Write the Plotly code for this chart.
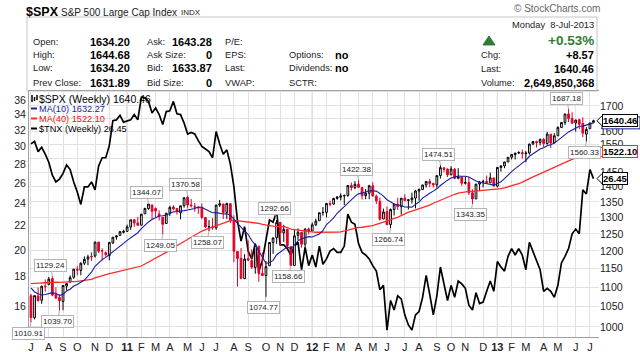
import math
import pandas as pd
import plotly.graph_objects as go

# ---------------- data (weekly, first bar = week ending 2010-07-02) ----------------
first_week = "2010-07-02"

spx_open = [
    1077.5, 1022.1, 1077.2, 1066.0, 1102.9, 1107.5, 1122.8, 1081.0, 1073.3, 1062.9, 1102.6, 1113.4, 1126.6, 1148.6,
    1144.9, 1165.3, 1176.8, 1184.7, 1185.7, 1225.6, 1200.4, 1194.8, 1186.6, 1223.2, 1240.9, 1245.8, 1254.7,
    1257.6, 1270.8, 1293.2, 1283.3, 1276.5, 1311.9, 1328.7, 1340.4, 1328.6, 1311.1, 1301.2, 1281.7, 1315.4, 1333.5,
    1329.0, 1315.3, 1337.9, 1365.2, 1340.2, 1334.1, 1333.1, 1331.1, 1300.3, 1271.3, 1272.2, 1268.4, 1339.6, 1343.3,
    1315.9, 1344.3, 1292.6, 1198.5, 1179.2, 1123.2, 1177.9, 1172.4, 1153.5, 1214.0, 1136.9, 1131.2, 1158.2, 1224.5,
    1238.7, 1284.9, 1253.2, 1263.9, 1212.5, 1158.7, 1246.0, 1255.1, 1219.7, 1265.0,
    1258.9, 1277.8, 1290.2, 1315.3, 1316.2, 1344.3, 1343.1, 1361.2, 1365.2, 1369.6, 1370.8, 1404.2, 1397.1, 1408.5,
    1397.4, 1370.3, 1378.5, 1403.4, 1368.8, 1351.9, 1295.7, 1318.9, 1278.3, 1325.7, 1342.4, 1334.9, 1362.3, 1354.7,
    1356.5, 1362.3, 1385.9, 1391.0, 1405.9, 1418.1, 1411.1, 1406.5, 1438.4, 1465.4, 1460.3, 1440.9, 1460.3, 1428.8,
    1433.2, 1411.9, 1414.0, 1379.9, 1359.9, 1409.2, 1416.3, 1418.1, 1413.5, 1430.2,
    1402.4, 1466.5, 1472.1, 1486.0, 1502.9, 1512.1, 1517.9, 1519.8, 1515.6, 1518.2, 1551.2, 1560.7, 1556.9, 1569.2,
    1553.3, 1588.6, 1555.3, 1582.3, 1614.4, 1633.7, 1667.5, 1649.6, 1631.7, 1644.7, 1629.9, 1588.8, 1609.8, 1634.2,
]
spx_high = [
    1082.6, 1078.0, 1099.1, 1103.7, 1120.9, 1127.3, 1129.24, 1100.1, 1081.6, 1105.1, 1110.9, 1131.5, 1148.9, 1157.2,
    1167.7, 1184.4, 1189.4, 1196.1, 1227.1, 1227.1, 1207.4, 1198.7, 1225.6, 1240.4, 1246.7, 1259.4, 1262.6,
    1278.2, 1293.3, 1296.1, 1302.7, 1311.0, 1330.8, 1344.07, 1340.4, 1332.3, 1322.6, 1301.2, 1314.8, 1337.9, 1339.5,
    1329.0, 1337.5, 1364.6, 1370.58, 1359.4, 1346.8, 1334.6, 1345.2, 1300.3, 1292.5, 1298.6, 1341.0, 1356.5, 1343.3,
    1347.0, 1344.3, 1307.4, 1199.4, 1208.5, 1190.7, 1230.7, 1204.4, 1220.4, 1214.0, 1195.9, 1171.4, 1224.6, 1239.0,
    1292.66, 1284.9, 1277.6, 1266.0, 1212.5, 1264.3, 1267.1, 1255.1, 1265.4, 1269.4,
    1284.6, 1296.8, 1315.5, 1333.5, 1345.3, 1354.3, 1363.4, 1368.9, 1378.0, 1374.2, 1405.9, 1414.0, 1419.2, 1422.38,
    1397.4, 1392.8, 1406.6, 1415.3, 1373.9, 1364.2, 1328.5, 1334.9, 1329.0, 1343.3, 1363.5, 1362.2, 1374.8, 1359.6,
    1380.4, 1389.2, 1394.2, 1407.1, 1418.7, 1426.7, 1413.5, 1438.0, 1474.51, 1465.6, 1463.2, 1470.9, 1464.0, 1464.0,
    1433.8, 1434.3, 1433.4, 1391.4, 1409.2, 1420.0, 1424.0, 1438.6, 1448.0, 1430.2,
    1467.9, 1472.3, 1486.0, 1503.3, 1514.4, 1518.3, 1524.7, 1530.9, 1525.8, 1552.5, 1563.3, 1563.6, 1570.3, 1573.7,
    1597.4, 1588.6, 1592.6, 1618.5, 1635.0, 1667.5, 1687.18, 1674.2, 1644.0, 1648.7, 1654.2, 1615.9, 1632.1, 1644.68,
]
spx_low = [
    1010.91, 1018.4, 1062.9, 1056.9, 1088.0, 1105.1, 1076.6, 1069.0, 1039.70, 1040.9, 1091.2, 1113.4, 1122.2, 1131.9,
    1131.9, 1160.0, 1159.7, 1171.7, 1181.3, 1194.1, 1173.0, 1183.5, 1173.6, 1220.7, 1232.8, 1245.8, 1251.5,
    1257.6, 1262.2, 1271.3, 1275.1, 1276.5, 1311.7, 1324.6, 1294.3, 1299.0, 1291.2, 1249.05, 1281.7, 1305.3, 1322.9,
    1309.0, 1294.7, 1331.6, 1329.2, 1332.0, 1318.5, 1311.8, 1296.1, 1268.6, 1258.07, 1262.7, 1262.7, 1333.9, 1295.9,
    1295.9, 1282.9, 1168.1, 1101.5, 1121.1, 1121.1, 1171.0, 1149.4, 1136.2, 1114.2, 1131.1, 1074.77, 1158.2, 1191.5,
    1220.6, 1215.4, 1226.6, 1208.0, 1158.66, 1158.7, 1231.5, 1209.5, 1202.4, 1248.6,
    1258.9, 1274.4, 1290.2, 1306.1, 1300.8, 1335.9, 1341.0, 1357.3, 1354.9, 1340.0, 1366.7, 1386.9, 1391.6, 1397.8,
    1357.4, 1358.8, 1358.8, 1367.9, 1343.1, 1291.0, 1295.7, 1277.4, 1266.74, 1306.6, 1324.4, 1309.3, 1351.4, 1325.4,
    1344.8, 1329.2, 1354.7, 1390.6, 1397.3, 1398.0, 1397.0, 1396.6, 1428.0, 1449.6, 1433.0, 1439.0, 1425.5, 1425.5,
    1403.3, 1407.6, 1373.0, 1343.35, 1359.9, 1385.4, 1398.2, 1411.9, 1413.5, 1401.4,
    1398.1, 1451.6, 1463.8, 1485.2, 1495.0, 1495.0, 1515.6, 1497.3, 1485.0, 1512.3, 1547.4, 1538.6, 1546.2, 1539.5,
    1548.6, 1536.0, 1555.3, 1581.3, 1614.4, 1623.7, 1635.5, 1630.6, 1598.2, 1608.1, 1577.7, 1560.33, 1608.5, 1634.2,
]
spx_close = [
    1022.58, 1077.96, 1064.88, 1102.66, 1101.60, 1121.64, 1079.25, 1071.69, 1064.59, 1104.51, 1109.55, 1125.59,
    1148.67, 1146.24, 1165.15, 1176.19, 1183.08, 1183.26, 1225.85, 1199.21, 1199.73, 1189.40, 1224.71, 1240.40,
    1243.91, 1256.77, 1257.64,
    1271.50, 1293.24, 1283.35, 1276.34, 1310.87, 1329.15, 1343.01, 1319.88, 1321.15, 1304.28, 1279.21, 1313.80,
    1332.41, 1328.17, 1319.68, 1337.38, 1363.61, 1340.20, 1337.77, 1333.27, 1331.10, 1300.16, 1270.98, 1271.50,
    1268.45, 1339.67, 1343.80, 1316.14, 1345.02, 1292.28, 1199.38, 1178.81, 1123.53, 1176.80, 1173.97, 1154.23,
    1216.01, 1136.43, 1131.42, 1155.46, 1224.58, 1238.25, 1285.09, 1253.23, 1263.85, 1215.65, 1158.67, 1244.28,
    1255.19, 1219.66, 1265.33, 1257.60,
    1277.81, 1289.09, 1315.38, 1316.33, 1344.90, 1342.64, 1361.23, 1365.74, 1369.63, 1370.87, 1404.17, 1397.11,
    1408.47, 1398.08, 1370.26, 1378.53, 1403.36, 1369.10, 1353.39, 1295.22, 1317.82, 1278.04, 1325.66, 1342.84,
    1335.02, 1362.16, 1354.68, 1356.78, 1362.66, 1385.97, 1390.99, 1405.87, 1418.16, 1411.13, 1406.58, 1437.92,
    1465.77, 1460.15, 1440.67, 1460.93, 1428.59, 1433.19, 1411.94, 1414.20, 1379.85, 1359.88, 1409.15, 1416.18,
    1418.07, 1413.58, 1430.15, 1402.43,
    1466.47, 1472.05, 1485.98, 1502.96, 1513.17, 1517.93, 1519.79, 1515.60, 1518.20, 1551.18, 1560.70, 1556.89,
    1569.19, 1553.28, 1588.85, 1555.25, 1582.24, 1614.42, 1633.70, 1667.47, 1649.60, 1630.74, 1643.38, 1626.73,
    1592.43, 1606.28, 1631.89, 1640.46,
]
# 39 weekly closes before the first bar (Oct 2009 - Jun 2010), used only to seed the moving averages
spx_close_prior = [
    1025.21, 1071.49, 1087.68, 1079.60, 1036.19, 1069.30, 1093.48, 1091.38, 1091.49, 1105.98, 1106.41, 1102.47,
    1126.48, 1115.10, 1144.98, 1136.03, 1091.76, 1073.87, 1066.19, 1075.51, 1109.17, 1104.49, 1138.70, 1149.99,
    1159.90, 1166.59, 1178.10, 1194.37, 1192.13, 1217.28, 1186.69, 1110.88, 1135.68, 1087.69, 1089.41, 1064.88,
    1091.60, 1117.51, 1076.76,
]
tnx = [
    30.3, 30.6, 29.4, 29.9, 29.1, 28.2, 26.8, 26.1, 26.4, 27.0, 27.9, 27.4, 26.1, 25.1, 23.9, 25.6, 25.6, 26.1,
    25.3, 27.8, 28.7, 28.7, 30.1, 33.2, 33.3, 33.9, 33.0,
    33.2, 33.3, 34.0, 33.3, 36.4, 36.3, 35.8, 34.2, 34.9, 34.0, 32.7, 34.4, 34.5, 35.8, 34.1, 34.0, 32.9, 31.5,
    31.7, 31.5, 30.7, 30.0, 29.7, 29.4, 28.7, 31.8, 30.3, 29.1, 29.6, 28.0, 25.6, 22.4, 20.7, 21.9, 19.9, 19.3,
    20.5, 18.4, 19.2, 20.8, 22.5, 22.3, 23.2, 20.4, 20.4, 20.1, 19.6, 20.3, 20.6, 18.5, 20.2, 18.8,
    19.6, 18.7, 20.3, 18.9, 19.3, 19.9, 20.1, 19.8, 19.8, 20.3, 23.0, 22.3, 22.1, 20.5, 19.8, 19.6, 19.3, 18.8,
    18.4, 17.1, 17.4, 14.6, 16.4, 15.8, 16.7, 16.5, 15.5, 14.9, 14.6, 15.5, 15.7, 16.6, 18.1, 16.8, 15.5, 16.7,
    18.7, 17.5, 16.4, 17.4, 16.6, 17.7, 17.5, 17.2, 16.1, 15.8, 16.9, 16.2, 16.3, 17.0, 17.7, 17.0,
    19.1, 18.7, 18.4, 19.5, 20.1, 19.6, 20.1, 19.6, 18.5, 20.6, 19.9, 19.3, 18.5, 17.0, 17.2, 17.0, 16.6, 17.4,
    19.0, 19.5, 20.1, 21.3, 21.7, 21.3, 25.3, 24.9, 27.4, 26.45,
]
# labelled swing highs / lows: (bar index, value, side)
price_marks = [
    (0, 1010.91, "below"), (6, 1129.24, "above"), (8, 1039.70, "below"), (33, 1344.07, "above"),
    (37, 1249.05, "below"), (44, 1370.58, "above"), (50, 1258.07, "below"), (66, 1074.77, "below"),
    (69, 1292.66, "above"), (73, 1158.66, "below"), (92, 1422.38, "above"), (101, 1266.74, "below"),
    (115, 1474.51, "above"), (124, 1343.35, "below"), (151, 1687.18, "above"), (156, 1560.33, "below"),
]
tnx_ticks = [16, 18, 20, 22, 24, 26, 28, 30, 32, 34, 36]
spx_ticks = [1000, 1050, 1100, 1150, 1200, 1250, 1300, 1350, 1400, 1450, 1500, 1550, 1600, 1650, 1700]
spx_ticks_covered = [1500, 1650]   # labels hidden behind the value boxes in the original
ma10_last = 1632.27

# ---------------- derived ----------------
dates = pd.date_range(first_week, periods=len(spx_close), freq="7D")
all_close = pd.Series(spx_close_prior + spx_close)
n_prior = len(spx_close_prior)
ma10 = all_close.rolling(10).mean().iloc[n_prior:].tolist()
ma40 = all_close.rolling(40).mean().iloc[n_prior:].tolist()

tickvals, ticktext, year_ticks = [], [], []
prev = None
for d in dates:
    key = (d.year, d.month)
    if key != prev:
        tickvals.append(d)
        if d.month == 1:
            ticktext.append("<b>%02d</b>" % (d.year % 100))
            year_ticks.append(d)
        else:
            ticktext.append(d.strftime("%b")[0])
        prev = key

# ---------------- layout geometry ----------------
PL, PR, PT, PB = 29, 599, 91, 337
W, H = PR - PL, PB - PT
SPX_RANGE = (976.0, 1762.0)
TNX_RANGE = (14.21, 37.29)


def fx(px):
    return (px - PL) / W


def fy(py):
    return (PB - py) / H


def pix_of(v, rng):
    lo, hi = math.log10(rng[0]), math.log10(rng[1])
    return PT + H * (hi - math.log10(v)) / (hi - lo)


FONT = "Liberation Sans, Arial, sans-serif"
RED = "#e0002a"
MA40C = "#ff2a2a"
BLUE = "#1c1ca0"

fig = go.Figure()

fig.add_trace(go.Scatter(x=dates, y=tnx, yaxis="y", mode="lines",
                         line=dict(color="black", width=1.7), hoverinfo="skip"))
fig.add_trace(go.Candlestick(
    x=dates, open=spx_open, high=spx_high, low=spx_low, close=spx_close, yaxis="y2",
    increasing=dict(line=dict(color="black", width=1), fillcolor="white"),
    decreasing=dict(line=dict(color=RED, width=1), fillcolor=RED),
    whiskerwidth=0, hoverinfo="skip"))
fig.add_trace(go.Scatter(x=dates, y=ma40, yaxis="y2", mode="lines",
                         line=dict(color=MA40C, width=1.3), hoverinfo="skip"))
fig.add_trace(go.Scatter(x=dates, y=ma10, yaxis="y2", mode="lines",
                         line=dict(color=BLUE, width=1.1), hoverinfo="skip"))

x0 = dates[0] - pd.Timedelta(hours=94)
x1 = dates[-1] + pd.Timedelta(hours=260)

fig.update_layout(
    width=640, height=352, margin=dict(l=PL, r=640 - PR, t=PT, b=352 - PB, autoexpand=False),
    paper_bgcolor="white", plot_bgcolor="white", showlegend=False,
    font=dict(family=FONT, size=11, color="#222"),
    xaxis=dict(type="date", range=[x0, x1], tickmode="array", tickvals=tickvals, ticktext=ticktext,
               tickangle=0, showgrid=True, gridcolor="#e2e2e2", gridwidth=1, zeroline=False, automargin=False,
               showline=True, linecolor="#a0a0a0", mirror=True, ticks="", tickfont=dict(size=11, color="#222"),
               rangeslider=dict(visible=False)),
    yaxis=dict(type="log", range=[math.log10(TNX_RANGE[0]), math.log10(TNX_RANGE[1])], tickmode="array",
               automargin=False, tickvals=tnx_ticks, ticktext=[str(v) for v in tnx_ticks], showgrid=False,
               zeroline=False, showline=True, linecolor="#a0a0a0", ticks="", tickfont=dict(size=10.5, color="#222")),
    yaxis2=dict(type="log", overlaying="y", side="right",
                range=[math.log10(SPX_RANGE[0]), math.log10(SPX_RANGE[1])],
                tickmode="array", tickvals=spx_ticks,
                ticktext=["" if v in spx_ticks_covered else str(v) for v in spx_ticks], automargin=False,
                showgrid=True, gridcolor="#e2e2e2", zeroline=False, showline=False, ticks="",
                tickfont=dict(size=10.5, color="#222")),
)

shapes = []
for d in year_ticks:
    shapes.append(dict(type="line", xref="x", yref="paper", x0=d, x1=d, y0=0, y1=1,
                       line=dict(color="#b4b4b4", width=1), layer="below"))
# info box
shapes.append(dict(type="rect", xref="paper", yref="paper", x0=fx(27), x1=fx(597), y0=fy(91), y1=fy(17),
                   line=dict(color="#c4c4c4", width=1), layer="below"))
# green up triangle
shapes.append(dict(type="path", xref="paper", yref="paper",
                   path="M %f,%f L %f,%f L %f,%f Z" % (fx(483), fy(45), fx(489), fy(36), fx(495), fy(45)),
                   fillcolor="#2f7d32", line=dict(color="#2f7d32", width=1)))
# legend swatches
for yy, col in [(108.5, BLUE), (118.5, MA40C), (128.5, "black")]:
    shapes.append(dict(type="line", xref="paper", yref="paper", x0=fx(31), x1=fx(37), y0=fy(yy), y1=fy(yy),
                       line=dict(color=col, width=2)))
for xx, ya, yb in [(32, 95, 102), (34.5, 97, 101), (37, 95, 100)]:
    shapes.append(dict(type="line", xref="paper", yref="paper", x0=fx(xx), x1=fx(xx), y0=fy(yb), y1=fy(ya),
                       line=dict(color="black", width=1.5)))

anns = []


def txt(x, y, s, anchor="left", size=11, bold=False, color="#222"):
    anns.append(dict(xref="paper", yref="paper", x=fx(x), y=fy(y), text=("<b>%s</b>" % s) if bold else s,
                     showarrow=False, xanchor=anchor, yanchor="middle", borderpad=0,
                     font=dict(family=FONT, size=size, color=color)))


# header
txt(25, 12, "$SPX", size=12.5, bold=True, color="black")
txt(60, 12, "S&P 500 Large Cap Index", size=10)
txt(180, 13, "INDX", size=8)
txt(601, 8, "© StockCharts.com", anchor="right", size=10, color="#666")

rows = [41.5, 55, 68.5, 83]
col1 = ["Open:", "High:", "Low:", "Prev Close:"]
val1 = ["1634.20", "1644.68", "1634.20", "1631.89"]
col2 = ["Ask:", "Ask Size:", "Bid:", "Bid Size:"]
val2 = ["1643.28", "0", "1633.87", "0"]
col3 = ["P/E:", "EPS:", "Last:", "VWAP:"]
col4 = ["", "Options:", "Dividends:", "SCTR:"]
val4 = ["", "no", "no", ""]
LBL = 9.3
for i, y in enumerate(rows):
    txt(32, y, col1[i], size=LBL)
    txt(131, y, val1[i], anchor="right", bold=True, color="black")
    txt(146, y, col2[i], size=LBL)
    txt(213, y, val2[i], anchor="right", bold=True, color="black")
    txt(224, y, col3[i], size=LBL)
    if col4[i]:
        txt(288, y, col4[i], size=LBL)
    if val4[i]:
        txt(334, y, val4[i], bold=True, color="black")
txt(595, 25, "Monday  8-Jul-2013", anchor="right", size=LBL)
txt(595, 40, "+0.53%", anchor="right", size=13.5, bold=True, color="#2f7d32")
txt(480, 55, "Chg:", size=LBL)
txt(595, 55, "+8.57", anchor="right", bold=True, color="black")
txt(480, 69, "Last:", size=LBL)
txt(595, 69, "1640.46", anchor="right", bold=True, color="black")
txt(480, 83, "Volume:", size=LBL)
txt(595, 83, "2,649,850,368", anchor="right", bold=True, color="black")

# in-chart legend
txt(38, 98.5, "$SPX (Weekly) 1640.46", size=10.5, color="black")
txt(38, 108.5, "MA(10) 1632.27", size=9.2, color=BLUE)
txt(38, 118.5, "MA(40) 1522.10", size=9.2, color="#ee1111")
txt(38, 128.5, "$TNX (Weekly) 26.45", size=9.2, color="black")

# swing labels (log axes take log10 positions)
for idx, v, side in price_marks:
    anns.append(dict(xref="x", yref="y2", x=dates[idx], y=math.log10(v), text="%.2f" % v, showarrow=True,
                     arrowhead=0, arrowwidth=1, arrowcolor="#b0b0b0", ax=-2, ay=(-11 if side == "above" else 11),
                     font=dict(family=FONT, size=8, color="#222"), bgcolor="white",
                     bordercolor="#b4b4b4", borderwidth=1, borderpad=1))

# MA(10) value box, almost fully hidden behind the last-price box
py10 = pix_of(ma10_last, SPX_RANGE)
shapes.append(dict(type="rect", xref="paper", yref="paper", layer="above",
                   x0=fx(602), x1=fx(640), y0=fy(py10 + 6), y1=fy(py10 - 6),
                   line=dict(color=BLUE, width=1), fillcolor="white"))

# right-hand value boxes with a left-pointing notch
right_boxes = [("1640.46", 1640.46, SPX_RANGE, "y2", "black"),
               ("1522.10", 1522.10, SPX_RANGE, "y2", MA40C), ("26.45", 26.45, TNX_RANGE, "y", "black")]
for s, v, rng, yr, col in right_boxes:
    py = pix_of(v, rng)
    shapes.append(dict(type="path", xref="paper", yref="paper", layer="above",
                       path="M %f,%f L %f,%f L %f,%f" % (fx(602), fy(py - 5), fx(597), fy(py), fx(602), fy(py + 5)),
                       line=dict(color=col, width=1), fillcolor="white"))
    anns.append(dict(xref="paper", yref=yr, x=fx(601.5), y=math.log10(v), text="<b>%s</b>" % s, showarrow=False,
                     xanchor="left", yanchor="middle", font=dict(family=FONT, size=9.5, color="black"),
                     bgcolor="white", bordercolor=col, borderwidth=1, borderpad=0))

fig.update_layout(shapes=shapes, annotations=anns)
fig.write_html("out.html")
